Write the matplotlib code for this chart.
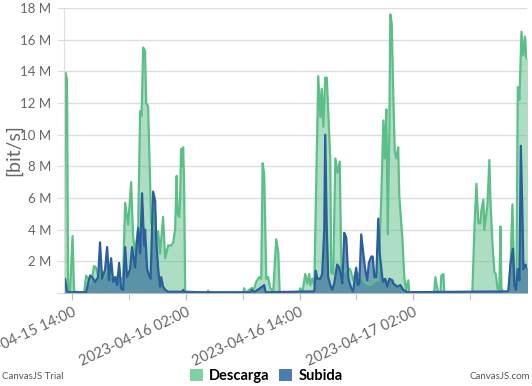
import matplotlib
matplotlib.use('Agg')
import matplotlib.pyplot as plt
import matplotlib.dates as mdates
from matplotlib.ticker import FuncFormatter, MultipleLocator
from matplotlib.patches import Patch
import pandas as pd

# minutes after 2023-04-15 14:00, values in Mbit/s
desc_min = [-51, -41, -32, -25, -13, 3, 13, 76, 89, 101, 114, 127, 139, 152, 165, 177,
            196, 222, 241, 260, 279, 298, 310, 323, 336, 348, 355, 374, 386, 399, 418,
            431, 440, 450, 462, 469, 481, 494, 500, 513, 526, 532, 545, 557, 576, 589,
            608, 627, 640, 652, 662, 668, 678, 684, 690, 697, 703, 709, 716, 855, 861,
            868, 1083, 1089, 1096, 1134, 1153, 1165, 1184, 1197, 1206, 1216, 1229, 1241,
            1254, 1273, 1292, 1305, 1314, 1438, 1444, 1457, 1476, 1488, 1501, 1507, 1520,
            1533, 1545, 1558, 1571, 1580, 1590, 1602, 1612, 1621, 1634, 1640, 1653, 1666,
            1681, 1694, 1704, 1723, 1742, 1760, 1779, 1798, 1811, 1836, 1862, 1887, 1919,
            1938, 1957, 1970, 1979, 1989, 1998, 2008, 2014, 2023, 2033, 2042, 2052, 2064,
            2071, 2090, 2103, 2115, 2128, 2134, 2292, 2299, 2311, 2318, 2331, 2337, 2350,
            2356, 2533, 2546, 2559, 2571, 2584, 2590, 2603, 2609, 2628, 2641, 2647, 2660,
            2673, 2682, 2692, 2704, 2711, 2717, 2730, 2761, 2774, 2787, 2799, 2812, 2821,
            2831, 2844, 2856, 2866, 2875, 2885]
descarga = [3.4, 13.9, 13.5, 0.4, 0.1, 3.6, 0.1, 0.0, 1.1, 0.9, 0.6, 1.0, 1.7, 1.6, 1.0, 1.2,
            0.9, 1.5, 1.2, 0.9, 1.0, 1.1, 0.8, 1.0, 5.7, 4.8, 4.3, 7.0, 3.6, 2.6, 4.0,
            11.5, 11.2, 15.5, 15.3, 12.0, 11.8, 7.0, 4.5, 4.0, 5.0, 3.2, 3.9, 2.5, 4.8, 2.2,
            3.0, 3.0, 3.2, 4.0, 7.4, 5.0, 4.8, 6.0, 9.1, 8.0, 9.2, 7.0, 0.1, 0.0, 0.15,
            0.0, 0.0, 0.3, 0.0, 0.3, 0.3, 0.7, 1.0, 0.9, 8.2, 7.5, 0.9, 1.0,
            0.3, 0.1, 3.4, 2.6, 0.0, 0.0, 0.3, 0.0, 1.2, 0.6, 1.2, 0.5, 0.9,
            0.5, 7.0, 13.7, 11.1, 12.9, 10.5, 13.6, 13.6, 11.5, 8.5, 1.3, 1.2, 8.5,
            7.6, 8.3, 1.5, 1.3, 1.6, 1.5, 0.8, 1.4, 1.2, 0.9, 0.6, 0.5, 0.8,
            0.8, 6.0, 10.9, 8.5, 11.6, 3.7, 10.5, 17.6, 17.0, 12.5, 9.0, 8.5, 9.2,
            6.1, 3.5, 0.9, 0.2, 0.8, 0.0, 0.0, 1.0, 0.3, 0.0, 0.0, 1.1, 1.2,
            0.0, 0.0, 4.0, 6.9, 4.4, 4.4, 5.2, 5.9, 4.0, 5.5, 8.4, 6.0, 3.2,
            1.3, 1.2, 0.3, 0.2, 4.2, 0.3, 0.0, 0.0, 1.5, 5.6, 0.5, 1.0, 13.0,
            12.2, 16.5, 15.0, 16.2, 14.8, 14.9]

sub_min = [-51, -44, -32, -13, 89, 101, 114, 127, 146, 165, 177, 190, 209, 222, 234, 247,
           260, 272, 285, 298, 310, 323, 336, 348, 367, 380, 399, 405, 418, 431, 443, 456,
           462, 475, 488, 497, 513, 526, 532, 545, 557, 564, 576, 589, 608, 697, 703, 712,
           1127, 1140, 1153, 1203, 1216, 1225, 1533, 1542, 1552, 1571, 1583, 1596, 1602,
           1612, 1621, 1634, 1647, 1659, 1678, 1691, 1700, 1710, 1723, 1735, 1748, 1757,
           1767, 1779, 1798, 1808, 1818, 1830, 1843, 1855, 1868, 1878, 1894, 1903, 1913,
           1925, 1938, 1947, 1963, 1970, 1982, 1995, 2008, 2027, 2033, 2058, 2077, 2096,
           2122, 2761, 2774, 2790, 2799, 2809, 2821, 2831, 2840, 2850, 2856, 2869, 2885]
subida = [0.2, 0.9, 0.1, 0.05, 0.05, 0.6, 1.1, 1.0, 0.7, 1.0, 3.2, 0.9, 1.5, 2.9, 0.8, 2.2,
          0.7, 1.0, 0.5, 1.9, 0.3, 0.2, 2.9, 1.0, 1.5, 2.9, 1.6, 2.5, 4.1, 2.5, 6.3, 3.0,
          4.0, 1.5, 1.1, 0.9, 6.4, 5.8, 3.5, 1.5, 0.4, 1.0, 0.4, 0.2, 0.08, 0.08, 0.2, 0.05,
          0.05, 0.2, 0.05, 0.4, 0.5, 0.05, 0.1, 1.4, 0.9, 0.9, 1.2, 4.0, 10.0,
          4.0, 1.0, 0.5, 0.2, 0.6, 1.8, 1.6, 1.2, 0.6, 3.8, 3.5, 1.0, 0.6,
          0.3, 0.1, 1.6, 0.5, 0.6, 3.7, 2.5, 1.5, 0.8, 1.9, 2.3, 2.3, 1.0,
          1.0, 4.7, 2.5, 1.0, 0.7, 0.9, 0.4, 0.9, 0.8, 0.6, 0.4, 0.5, 0.2,
          0.05, 0.1, 1.8, 2.8, 0.5, 0.2, 1.5, 0.8, 9.3, 5.0, 1.5, 1.8, 1.5]

ref = pd.Timestamp('2023-04-15 14:00')
t_desc = ref + pd.to_timedelta(desc_min, unit='min')
t_sub = ref + pd.to_timedelta(sub_min, unit='min')
d_vals = [v * 1e6 for v in descarga]
s_vals = [v * 1e6 for v in subida]

GREEN = '#5cbf88'
BLUE = '#2a5f9c'
GRAY = '#666666'

plt.rcParams['font.family'] = ['Lato', 'DejaVu Sans']

fig = plt.figure(figsize=(5.32, 3.86), dpi=100)
ax = fig.add_axes([64 / 532, 93 / 386, 463 / 532, 285 / 386])

ax.fill_between(t_desc, d_vals, color=GREEN, alpha=0.5, linewidth=0)
ax.plot(t_desc, d_vals, color=GREEN, linewidth=1.6)
ax.fill_between(t_sub, s_vals, color='#286496', alpha=0.62, linewidth=0)
ax.plot(t_sub, s_vals, color=BLUE, linewidth=1.6)

ax.set_xlim(ref + pd.Timedelta(minutes=-51), ref + pd.Timedelta(minutes=2879))
ax.set_ylim(0, 18e6)

ax.yaxis.set_major_locator(MultipleLocator(2e6))
ax.yaxis.set_major_formatter(FuncFormatter(lambda v, p: '' if v == 0 else f'{v / 1e6:.0f} M'))
ax.grid(axis='y', color='#dddddd', linewidth=1)
ax.set_axisbelow(True)

ax.xaxis.set_major_locator(mdates.HourLocator(byhour=[2, 14]))
ax.xaxis.set_minor_locator(mdates.HourLocator(byhour=[8, 20]))
ax.xaxis.set_major_formatter(mdates.DateFormatter('%Y-%m-%d %H:%M'))
for lbl in ax.get_xticklabels():
    lbl.set_rotation(25)
    lbl.set_ha('right')
    lbl.set_rotation_mode('anchor')

ax.tick_params(axis='x', which='both', length=5, color='#bbbbbb', labelsize=10.5,
               labelcolor=GRAY, pad=4)
ax.tick_params(axis='y', length=5, color='#dddddd', labelsize=9.5, labelcolor=GRAY, pad=4)

for side in ['top', 'right']:
    ax.spines[side].set_visible(False)
ax.spines['left'].set_color('#dddddd')
ax.spines['bottom'].set_color('#bbbbbb')

ax.set_ylabel('[bit/s]', fontsize=14, color=GRAY)
ax.yaxis.set_label_coords(-0.09, 0.5)

handles = [Patch(facecolor='#7fd0a2', label='Descarga'),
           Patch(facecolor='#4a7db0', label='Subida')]
fig.legend(handles=handles, loc='center', bbox_to_anchor=(0.5, 0.025), ncol=2,
           frameon=False, handlelength=0.9, handleheight=0.9,
           handletextpad=0.4, columnspacing=0.7,
           prop={'weight': 'bold', 'size': 10.5})

fig.text(0.004, 0.012, 'CanvasJS Trial', fontsize=7, color='#555555', ha='left', va='bottom')
fig.text(0.997, 0.012, 'CanvasJS.com', fontsize=7, color='#555555', ha='right', va='bottom')

fig.savefig('out.png', dpi=100)
